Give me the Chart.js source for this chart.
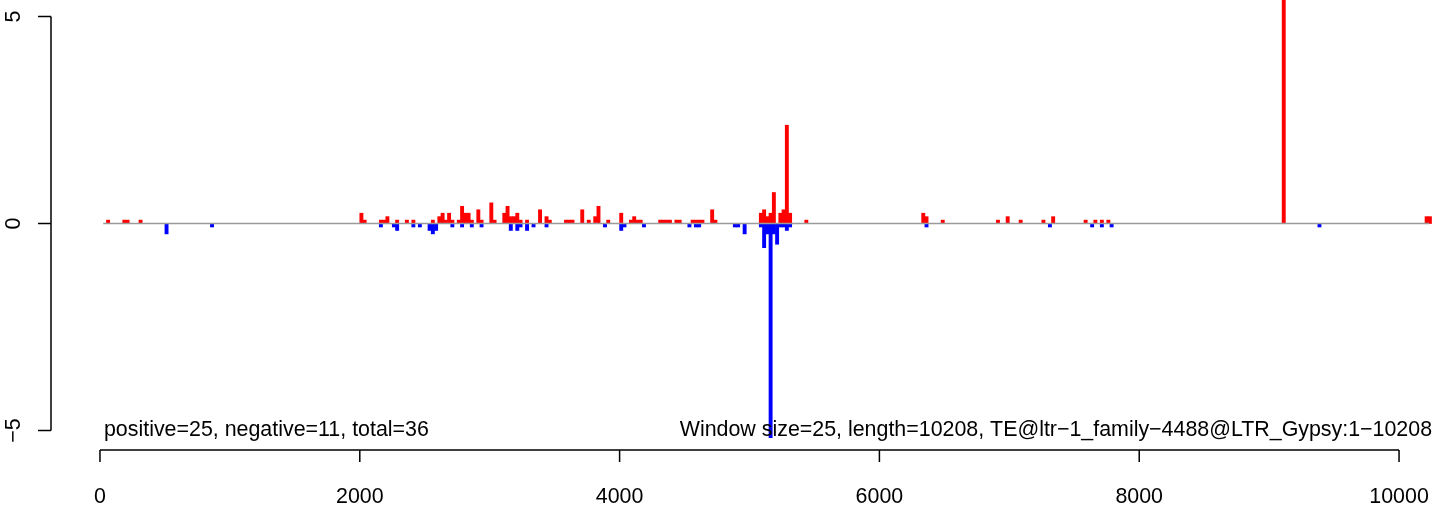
<!DOCTYPE html>
<html>
<head>
<meta charset="utf-8">
<script src="https://cdn.jsdelivr.net/npm/chart.js@4/dist/chart.umd.min.js"></script>
<style>
  html, body { margin: 0; padding: 0; background: #fff; }
  canvas { display: block; }
</style>
</head>
<body>
<canvas id="chart" width="1441" height="512"></canvas>
<script>
// window start positions and values (per 25 bp window)
const windowSize = 25;
const seqLength = 10208;

const posWindows = [50, 175, 200, 300,
  2000, 2025, 2150, 2175, 2200, 2275, 2350, 2400, 2550, 2600, 2625, 2650, 2675, 2700,
  2750, 2775, 2800, 2825, 2850, 2900, 2925, 3000, 3025, 3100, 3125, 3150, 3175, 3200,
  3225, 3275, 3375, 3425, 3450, 3575, 3600, 3625, 3700, 3750, 3800, 3825, 3900, 4000,
  4075, 4100, 4125, 4150, 4300, 4325, 4350, 4375, 4425, 4450, 4550, 4575, 4600, 4625,
  4700, 4725, 5075, 5100, 5125, 5150, 5175, 5225, 5250, 5275, 5300, 5425,
  6325, 6350, 6475, 6900, 6975, 7075, 7250, 7325, 7575, 7650, 7700, 7750,
  9100, 10200, 10225];
const posValues = [0.083, 0.083, 0.083, 0.083,
  0.25, 0.083, 0.083, 0.083, 0.167, 0.083, 0.083, 0.083, 0.083, 0.167, 0.25, 0.083, 0.25, 0.083,
  0.083, 0.417, 0.25, 0.25, 0.083, 0.333, 0.083, 0.5, 0.083, 0.25, 0.417, 0.167, 0.167, 0.25,
  0.083, 0.083, 0.333, 0.167, 0.083, 0.083, 0.083, 0.083, 0.333, 0.083, 0.167, 0.417, 0.083, 0.25,
  0.083, 0.167, 0.083, 0.083, 0.083, 0.083, 0.083, 0.083, 0.083, 0.083, 0.083, 0.083, 0.083, 0.083,
  0.333, 0.083, 0.25, 0.333, 0.167, 0.25, 0.75, 0.25, 0.333, 2.375, 0.25, 0.083,
  0.25, 0.167, 0.083, 0.083, 0.167, 0.083, 0.083, 0.167, 0.083, 0.083, 0.083, 0.083,
  7.5, 0.167, 0.167];

const negWindows = [500, 850,
  2150, 2250, 2275, 2400, 2450, 2525, 2550, 2575, 2700, 2775, 2850, 2925,
  3150, 3200, 3225, 3275, 3325, 3425, 3875, 4000, 4025, 4175,
  4525, 4575, 4600, 4875, 4900, 4950,
  5075, 5100, 5125, 5150, 5175, 5200, 5225, 5250, 5275, 5300,
  6350, 7300, 7625, 7700, 7775, 9375];
const negValues = [-0.25, -0.083,
  -0.083, -0.083, -0.167, -0.083, -0.083, -0.167, -0.25, -0.167, -0.083, -0.083, -0.083, -0.083,
  -0.167, -0.167, -0.083, -0.167, -0.083, -0.083, -0.083, -0.167, -0.083, -0.083,
  -0.083, -0.083, -0.083, -0.083, -0.083, -0.25,
  -0.083, -0.583, -0.25, -5.17, -0.25, -0.5, -0.083, -0.083, -0.167, -0.083,
  -0.083, -0.083, -0.083, -0.083, -0.083, -0.083];

const xTicks = [0, 2000, 4000, 6000, 8000, 10000];
const yTicks = [-5, 0, 5];
const countLabel = 'positive=25, negative=11, total=36';
const infoLabel = 'Window size=25, length=10208, TE@ltr−1_family−4488@LTR_Gypsy:1−10208';

const FONT = '21.4px "Liberation Sans", Arial, Helvetica, sans-serif';

function toPoints(wins, vals) {
  return wins.map((w, i) => ({ x: w + windowSize / 2, y: vals[i] }));
}

// R style axes, zero line and the two annotations
const rAxes = {
  id: 'rAxes',
  afterDatasetsDraw(chart) {
    const ctx = chart.ctx;
    const x = chart.scales.x, y = chart.scales.y;
    ctx.save();
    ctx.strokeStyle = '#9a9a9a';
    ctx.lineWidth = 1.5;
    ctx.beginPath();
    ctx.moveTo(x.getPixelForValue(windowSize), y.getPixelForValue(0));
    ctx.lineTo(x.getPixelForValue(seqLength + windowSize), y.getPixelForValue(0));
    ctx.stroke();
    ctx.restore();
  },
  afterDraw(chart) {
    const ctx = chart.ctx;
    const area = chart.chartArea;
    const x = chart.scales.x, y = chart.scales.y;
    ctx.save();
    ctx.strokeStyle = '#000';
    ctx.fillStyle = '#000';
    ctx.lineWidth = 1.5;
    ctx.font = FONT;

    // x axis
    const xb = area.bottom;
    ctx.beginPath();
    ctx.moveTo(x.getPixelForValue(xTicks[0]), xb);
    ctx.lineTo(x.getPixelForValue(xTicks[xTicks.length - 1]), xb);
    xTicks.forEach(t => {
      const px = x.getPixelForValue(t);
      ctx.moveTo(px, xb);
      ctx.lineTo(px, xb + 12);
    });
    ctx.stroke();
    ctx.textAlign = 'center';
    ctx.textBaseline = 'middle';
    xTicks.forEach(t => ctx.fillText(String(t), x.getPixelForValue(t), xb + 47));

    // y axis
    const yl = area.left;
    ctx.beginPath();
    ctx.moveTo(yl, y.getPixelForValue(yTicks[0]));
    ctx.lineTo(yl, y.getPixelForValue(yTicks[yTicks.length - 1]));
    yTicks.forEach(t => {
      const py = y.getPixelForValue(t);
      ctx.moveTo(yl, py);
      ctx.lineTo(yl - 13, py);
    });
    ctx.stroke();
    yTicks.forEach(t => {
      ctx.save();
      ctx.translate(yl - 37, y.getPixelForValue(t));
      ctx.rotate(-Math.PI / 2);
      ctx.fillText(t < 0 ? '−' + Math.abs(t) : String(t), 0, 0);
      ctx.restore();
    });

    // annotations
    const ty = y.getPixelForValue(-5);
    ctx.textAlign = 'left';
    ctx.fillText(countLabel, x.getPixelForValue(0) + 4, ty);
    ctx.textAlign = 'right';
    ctx.fillText(infoLabel, x.getPixelForValue(seqLength) + 6, ty);
    ctx.restore();
  }
};

new Chart(document.getElementById('chart'), {
  type: 'bar',
  data: {
    datasets: [
      { label: 'positive', data: toPoints(posWindows, posValues), backgroundColor: '#ff0000' },
      { label: 'negative', data: toPoints(negWindows, negValues), backgroundColor: '#0000ff' }
    ]
  },
  options: {
    responsive: false,
    animation: false,
    devicePixelRatio: 1,
    layout: { padding: { left: 51, right: 0, top: 0, bottom: 62 } },
    plugins: { legend: { display: false }, tooltip: { enabled: false } },
    datasets: { bar: { grouped: false, categoryPercentage: 1, barPercentage: 1, borderWidth: 0 } },
    scales: {
      x: { type: 'linear', min: -377, max: 10323, display: false,
           afterBuildTicks: s => { s.ticks = []; } },
      y: { min: -5.47, max: 5.40, display: false }
    }
  },
  plugins: [rAxes]
});
</script>
</body>
</html>
